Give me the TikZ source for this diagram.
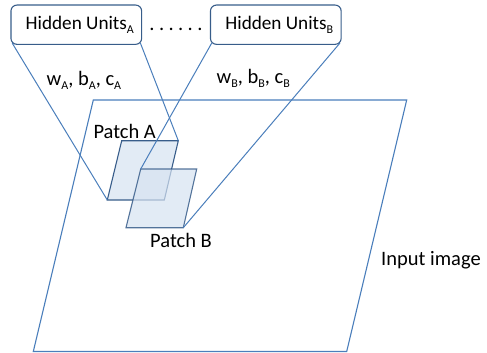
\documentclass[tikz,border=0pt]{standalone}
\usepackage{fontspec}
\setmainfont{Carlito}
\usetikzlibrary{calc}
\definecolor{boxblue}{HTML}{385D8A}
\definecolor{lineblue}{HTML}{4A7EBB}
\definecolor{patchfill}{HTML}{D6E2F1}
\newcommand{\sbs}[1]{\raisebox{-0.4ex}{\fontsize{12}{13}\selectfont #1}}
\newcommand{\dsp}{\hspace{4.4pt}}
\begin{document}
\begin{tikzpicture}[x=1pt,y=-1pt,
  hbox/.style={draw=boxblue,line width=1.1pt,rounded corners=6pt,minimum width=130.7pt,minimum height=39.3pt,inner sep=0pt,font=\fontsize{19.2}{21}\selectfont},
  conn/.style={draw=lineblue,line width=1pt},
  patch/.style={draw=boxblue,line width=1.1pt,fill=patchfill,fill opacity=0.7,draw opacity=1},
  lbl/.style={font=\fontsize{20.5}{22}\selectfont,inner sep=0pt}]
\useasboundingbox (0,0) rectangle (487,353);
% input image
\draw[draw=lineblue,line width=1.1pt] (93.3,100) -- (406.7,100) -- (346.7,351.5) -- (33.3,351.5) -- cycle;
% patches
\coordinate (pAtl) at (121.7,140.7);
\coordinate (pAtr) at (178.3,140.7);
\coordinate (pAbr) at (164.3,200);
\coordinate (pAbl) at (107.3,200);
\coordinate (pBtl) at (140.7,169);
\coordinate (pBtr) at (196.7,169);
\coordinate (pBbr) at (183.3,227.7);
\coordinate (pBbl) at (126,227.7);
\path[patch] (pAtl) -- (pAtr) -- (pAbr) -- (pAbl) -- cycle;
\path[patch,draw opacity=0.85] (pBtl) -- (pBtr) -- (pBbr) -- (pBbl) -- cycle;
% hidden unit boxes
\node[hbox] (hA) at (76.3,24.7) {\hspace*{7pt}Hidden Units\sbs{A}};
\node[hbox] (hB) at (275.8,24.7) {\hspace*{7pt}Hidden Units\sbs{B}};
\node[lbl] (dots) at (176,29) {.\dsp.\dsp.\dsp.\dsp.\dsp.};
% connectors
\draw[conn] ($(hA.south west)+(1.8,-1.8)$) -- (pAbl);
\draw[conn] ($(hA.south east)+(-1.8,-1.8)$) -- (pAtr);
\draw[conn] ($(hB.south west)+(1.8,-1.8)$) -- (pBtl);
\draw[conn] ($(hB.south east)+(-1.8,-1.8)$) -- (pBbr);
% labels
\node[lbl,anchor=west] (wA) at (46.5,80) {w\sbs{A}, b\sbs{A}, c\sbs{A}};
\node[lbl,anchor=west] (wB) at (216.5,78) {w\sbs{B}, b\sbs{B}, c\sbs{B}};
\node[lbl,anchor=west] (lA) at (93.3,131.7) {Patch A};
\node[lbl,anchor=west] (lB) at (150,240.7) {Patch B};
\node[lbl,anchor=west] (lI) at (381,260.7) {Input image};
\end{tikzpicture}
\end{document}
